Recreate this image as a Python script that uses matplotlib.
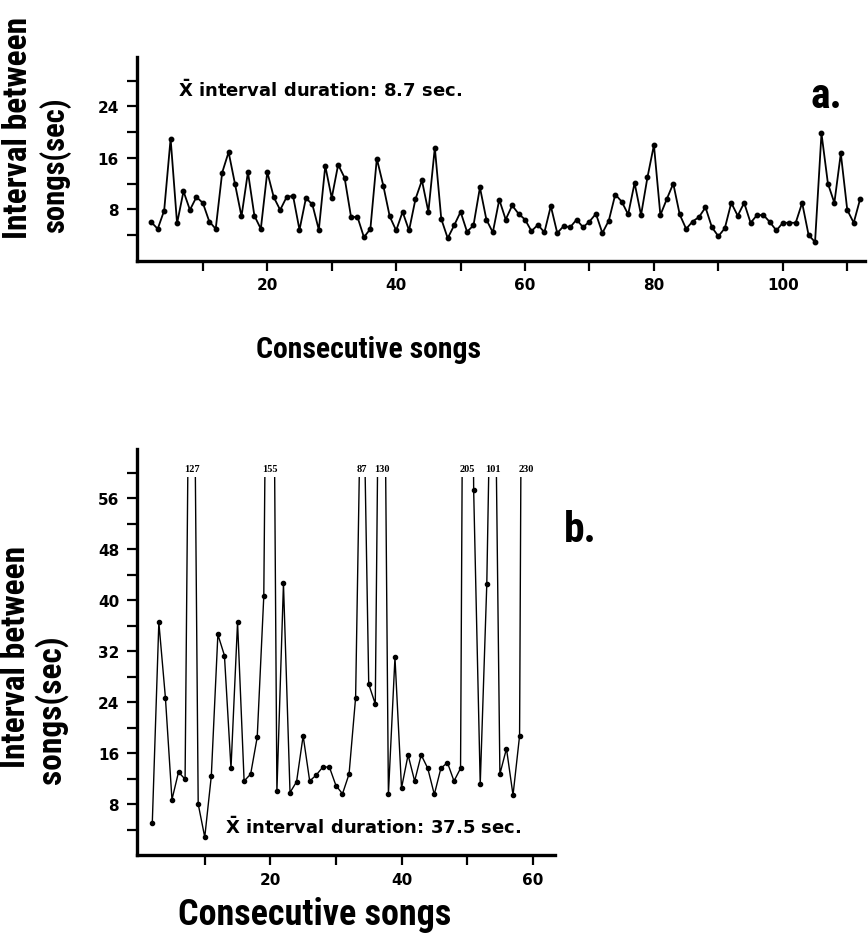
import matplotlib
matplotlib.use("Agg")
import matplotlib.pyplot as plt
from matplotlib import font_manager
from matplotlib.patches import Rectangle
from matplotlib.ticker import FixedLocator

names = {f.name for f in font_manager.fontManager.ttflist}
NARROW = next((n for n in ["Liberation Sans Narrow", "Roboto Condensed",
                           "DejaVu Sans Condensed", "Open Sans Condensed",
                           "Roboto", "Lato"] if n in names), "DejaVu Sans")
SERIF = "Liberation Serif" if "Liberation Serif" in names else "DejaVu Serif"

# ---------------- data ----------------
songs_a = list(range(2, 113))
interval_a = [6.0, 4.95, 7.8, 19.0, 5.8, 10.8, 7.9, 9.9, 9.0, 6.1,
              4.95, 13.7, 16.9, 11.9, 6.9, 13.8, 7.0, 4.95, 13.8, 9.9,
              7.9, 9.9, 10.1, 4.8, 9.75, 8.75, 4.8, 14.75, 9.75, 14.95,
              12.9, 6.8, 6.8, 3.65, 4.95, 15.9, 11.7, 6.9, 4.7, 7.6,
              4.7, 9.6, 12.5, 7.6, 17.6, 6.5, 3.5, 5.5, 7.6, 4.5,
              5.5, 11.4, 6.4, 4.4, 9.5, 6.4, 8.6, 7.3, 6.4, 4.6,
              5.6, 4.4, 8.5, 4.3, 5.4, 5.2, 6.4, 5.2, 6.1, 7.3,
              4.3, 6.25, 10.3, 9.2, 7.2, 12.1, 7.1, 13.0, 18.0, 7.1,
              9.6, 12.0, 7.2, 4.95, 6.1, 6.8, 8.3, 5.2, 3.8, 5.05,
              9.0, 7.0, 9.0, 5.9, 7.1, 7.1, 6.0, 4.7, 5.9, 5.9,
              5.9, 9.0, 4.0, 2.9, 19.8, 12.0, 9.0, 16.7, 7.9, 5.9, 9.6]
mean_a = 8.7

songs_b = list(range(2, 60))
interval_b = [5.0, 36.5, 24.7, 8.7, 13.0, 11.9, 127, 8.0, 2.8, 12.4,
              34.6, 31.3, 13.6, 36.5, 11.6, 12.7, 18.5, 40.6, 155, 10.0,
              42.6, 9.8, 11.5, 18.7, 11.6, 12.55, 13.8, 13.8, 10.9, 9.6,
              12.7, 24.7, 87, 26.8, 23.7, 130, 9.5, 31.0, 10.5, 15.7,
              11.6, 15.7, 13.6, 9.5, 13.6, 14.5, 11.6, 13.6, 205, 57.2,
              11.1, 42.5, 101, 12.7, 16.7, 9.4, 18.7, 230]
mean_b = 37.5

xticks_a = [20, 40, 60, 80, 100]
xminor_a = [10, 30, 50, 70, 90, 110]
yticks_a = [8, 16, 24]
yminor_a = [4, 12, 20, 28]

xticks_b = [20, 40, 60]
xminor_b = [10, 30, 50]
yticks_b = [8, 16, 24, 32, 40, 48, 56]
yminor_b = [4, 12, 20, 28, 36, 44, 52, 60]

xlabel_text = "Consecutive songs"
ylabel_line1 = "Interval between"
ylabel_line2 = "songs(sec)"

# ---------------- figure ----------------
W, H = 868, 937
fig = plt.figure(figsize=(W / 100, H / 100), dpi=100)
renderer = fig.canvas.get_renderer()


def px(x, y):
    return x / W, 1 - y / H


def fitted_text(x, y, s, length_px, max_size, rotation=0, **kw):
    """Place text whose long side is about length_px pixels."""
    t = fig.text(*px(x, y), s, ha="center", va="center", rotation=rotation,
                 fontsize=20, fontweight="bold", family=NARROW, **kw)
    bb = t.get_window_extent(renderer)
    cur = bb.height if rotation else bb.width
    t.set_fontsize(min(max_size, 20 * length_px / cur))
    return t


def style_axes(ax, xt, xm, yt, ym):
    for s in ("top", "right"):
        ax.spines[s].set_visible(False)
    for s in ("left", "bottom"):
        ax.spines[s].set_linewidth(2.4)
        ax.spines[s].set_capstyle("projecting")
    ax.xaxis.set_major_locator(FixedLocator(xt))
    ax.xaxis.set_minor_locator(FixedLocator(xm))
    ax.yaxis.set_major_locator(FixedLocator(yt))
    ax.yaxis.set_minor_locator(FixedLocator(ym))
    ax.tick_params(which="both", direction="out", length=7, width=1.6, color="black")
    ax.tick_params(axis="x", which="major", pad=5, labelsize=11)
    ax.tick_params(axis="y", which="major", pad=6, labelsize=11)
    for lab in ax.get_xticklabels() + ax.get_yticklabels():
        lab.set_fontweight("bold")
        lab.set_fontfamily("DejaVu Sans")


# ---- panel a ----
ax_a = fig.add_axes([137.1 / W, 1 - 261.7 / H, (865.3 - 137.1) / W, (261.7 - 58) / H])
ax_a.plot(songs_a, interval_a, color="black", lw=1.3, marker="o", ms=3.2,
          clip_on=False)
ax_a.set_xlim(-0.2, 112.8)
ax_a.set_ylim(0, 31.7)
style_axes(ax_a, xticks_a, xminor_a, yticks_a, yminor_a)

fig.text(*px(178, 90), r"$\mathbf{\bar{X}}$ interval duration: " + f"{mean_a} sec.",
         ha="left", va="center", fontsize=13, fontweight="bold", family="DejaVu Sans")
fig.text(*px(826, 97), "a.", ha="center", va="center", fontsize=30,
         fontweight="bold", family=NARROW)
fitted_text(369, 350, xlabel_text, 225, 24)
fitted_text(18, 128, ylabel_line1, 236, 24, rotation=90)
fitted_text(55, 165, ylabel_line2, 136, 24, rotation=90)

# ---- panel b ----
CLIP_TOP = 59.3
ax_b = fig.add_axes([137.2 / W, 1 - 856 / H, (555 - 137.2) / W, (856 - 450) / H])
ax_b.set_xlim(-0.3, 63.4)
ax_b.set_ylim(0, 63.7)
line_b, = ax_b.plot(songs_b, interval_b, color="black", lw=1.0, marker="o", ms=3.0)
clip_rect = Rectangle((-0.3, -5), 70, CLIP_TOP + 5, transform=ax_b.transData)
line_b.set_clip_path(clip_rect)
style_axes(ax_b, xticks_b, xminor_b, yticks_b, yminor_b)

for xv, yv in zip(songs_b, interval_b):
    if yv > CLIP_TOP:
        ax_b.annotate(f"{yv:g}", (xv, CLIP_TOP), xytext=(0, 3),
                      textcoords="offset points", ha="center", va="bottom",
                      fontsize=7.5, fontweight="bold", family=SERIF,
                      annotation_clip=False)

fig.text(*px(225, 827), r"$\mathbf{\bar{X}}$ interval duration: " + f"{mean_b} sec.",
         ha="left", va="center", fontsize=13, fontweight="bold", family="DejaVu Sans")
fig.text(*px(580, 530), "b.", ha="center", va="center", fontsize=30,
         fontweight="bold", family=NARROW)
fitted_text(315, 915, xlabel_text, 280, 26)
fitted_text(16, 657, ylabel_line1, 236, 24, rotation=90)
fitted_text(51, 710, ylabel_line2, 150, 24, rotation=90)

fig.savefig("out.png", dpi=100)
